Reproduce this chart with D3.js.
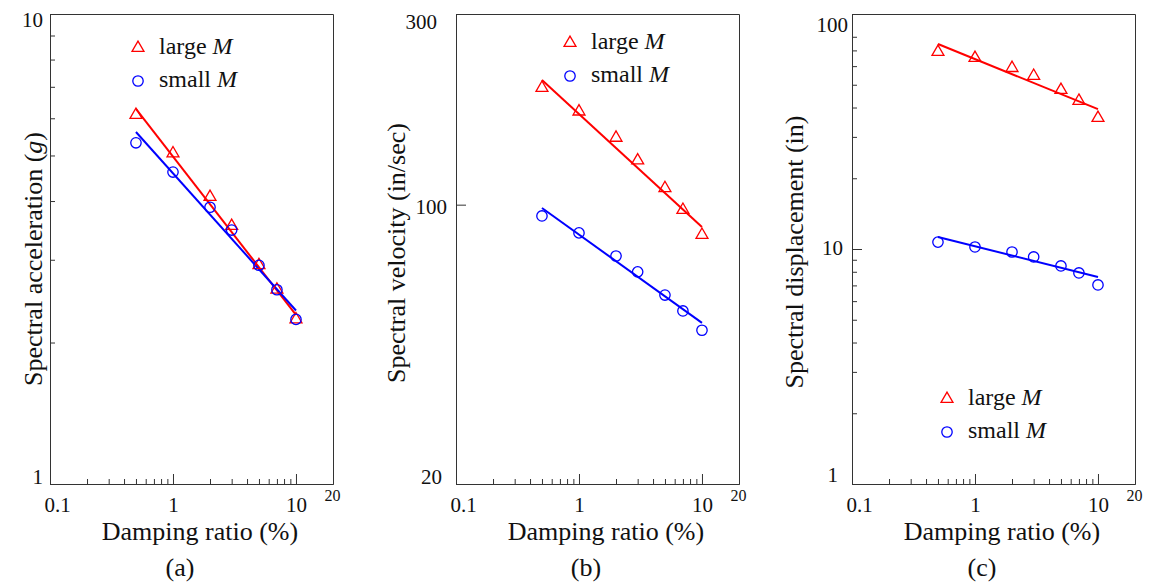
<!DOCTYPE html>
<html>
<head>
<meta charset="utf-8">
<script src="https://cdn.jsdelivr.net/npm/d3@7"></script>
</head>
<body style="margin:0">
<svg id="spectra" width="1152" height="586"></svg>
<script>
// Damping ratios (%) used for every response value
const damping = [0.5, 1, 2, 3, 5, 7, 10];
const fitDamping = [0.5, 10];

// (a) spectral acceleration (g)
const accLarge = [6.1, 5.05, 4.08, 3.54, 2.92, 2.59, 2.24];
const accSmall = [5.32, 4.61, 3.88, 3.47, 2.92, 2.59, 2.24];
const accLargeFit = [6.28, 2.29];
const accSmallFit = [5.61, 2.34];

// (b) spectral velocity (in/sec)
const velLarge = [196, 171, 147, 129, 110, 97, 84];
const velSmall = [93.7, 85.0, 74.4, 67.9, 59.4, 54.2, 48.5];
const velLargeFit = [205, 87.9];
const velSmallFit = [98.1, 50.6];

// (c) spectral displacement (in)
const dispLarge = [68.9, 65.0, 58.9, 54.5, 47.5, 42.7, 36.1];
const dispSmall = [10.7, 10.2, 9.71, 9.25, 8.47, 7.91, 7.03];
const dispLargeFit = [74.5, 39.4];
const dispSmallFit = [11.25, 7.60];

// Tick values
const xMajorTicks = [0.1, 1, 10, 20];
const xMinorTicks = [0.2, 0.3, 0.4, 0.5, 0.6, 0.7, 0.8, 0.9, 2, 3, 4, 5, 6, 7, 8, 9];
const accTicks = [1, 10];
const accMinorTicks = [2, 3, 4, 5, 6, 7, 8, 9];
const velTicks = [20, 100, 300];
const velMinorTicks = [];
const dispTicks = [1, 10, 100];
const dispMinorTicks = [2, 3, 4, 5, 6, 7, 8, 9, 20, 30, 40, 50, 60, 70, 80];

const seriesNames = ["large", "small"];
const panelLabels = ["(a)", "(b)", "(c)"];

const RED = "#ff0000", BLUE = "#0000ff", AXIS = "#333", INK = "#111";
const TOP = 14, BOTTOM = 484;
const SERIF = "Liberation Serif";

const svg = d3.select("#spectra");
svg.append("rect").attr("width", 1152).attr("height", 586).attr("fill", "#fff");

const panels = [
  {
    left: 50, right: 333, domain: [1, 10], ticks: accTicks, minor: accMinorTicks,
    large: accLarge, small: accSmall, largeFit: accLargeFit, smallFit: accSmallFit,
    title: ["Spectral acceleration (", "g", ")"], titleX: 42, titleY: 259,
    yLabelPad: [7, 7], yLabelShift: [-7, 6],
    legend: { x: 138, y: 48 }, label: panelLabels[0]
  },
  {
    left: 456, right: 739, domain: [20, 300], ticks: velTicks, minor: velMinorTicks,
    large: velLarge, small: velSmall, largeFit: velLargeFit, smallFit: velSmallFit,
    title: ["Spectral velocity (in/sec)"], titleX: 405, titleY: 253,
    yLabelPad: [14, 9, 19], yLabelShift: [-7, 2, 8],
    legend: { x: 570, y: 43 }, label: panelLabels[1]
  },
  {
    left: 852, right: 1135, domain: [1, 100], ticks: dispTicks, minor: dispMinorTicks,
    large: dispLarge, small: dispSmall, largeFit: dispLargeFit, smallFit: dispSmallFit,
    title: ["Spectral displacement (in)"], titleX: 803, titleY: 252,
    yLabelPad: [14, 9, 4], yLabelShift: [-9, -1, 11],
    legend: { x: 947, y: 399 }, label: panelLabels[2]
  }
];

const tri = d3.symbol().type(d3.symbolTriangle).size(62);

// serif text helper: inline style so nothing else overrides the face
function serif(sel, size) {
  return sel.style("font-family", SERIF).style("font-size", size + "px").attr("fill", INK);
}

panels.forEach(p => {
  const g = svg.append("g");
  const x = d3.scaleLog().domain([0.1, 20]).range([p.left, p.right]);
  const y = d3.scaleLog().domain(p.domain).range([BOTTOM, TOP]);

  // top and right edges of the frame
  g.append("path")
    .attr("d", `M${p.left + 0.5},${TOP + 0.5}H${p.right + 0.5}V${BOTTOM + 0.5}`)
    .attr("fill", "none").attr("stroke", AXIS).attr("stroke-width", 1);

  // x axis: major ticks with labels, inward ticks
  const xa = g.append("g").attr("transform", `translate(0,${BOTTOM})`)
    .call(d3.axisBottom(x).tickValues(xMajorTicks).tickSize(-10).tickPadding(13)
      .tickFormat(d => String(d)));
  serif(xa.selectAll("text"), 21);
  xa.selectAll(".tick").filter(d => d === 0.1).select("text").attr("dx", 7);
  xa.selectAll(".tick").filter(d => d === 20).select("text")
    .style("font-size", "16px").attr("y", 6).attr("dx", -1);
  xa.selectAll(".tick").filter(d => d === 20).select("line").remove();
  xa.selectAll(".tick line").attr("stroke", AXIS);
  xa.select(".domain").attr("stroke", AXIS);

  // x axis minor ticks
  const xm = g.append("g").attr("transform", `translate(0,${BOTTOM})`)
    .call(d3.axisBottom(x).tickValues(xMinorTicks).tickSize(-5).tickFormat(""));
  xm.select(".domain").remove();
  xm.selectAll(".tick line").attr("stroke", AXIS);

  // y axis: major ticks with labels
  const ya = g.append("g").attr("transform", `translate(${p.left},0)`)
    .call(d3.axisLeft(y).tickValues(p.ticks).tickSize(-10).tickPadding(7)
      .tickFormat(d => String(d)));
  serif(ya.selectAll("text"), 21)
    .attr("x", (d, i) => -p.yLabelPad[i])
    .attr("transform", (d, i) => `translate(0,${p.yLabelShift[i]})`);
  ya.selectAll(".tick line").attr("stroke", AXIS);
  ya.select(".domain").attr("stroke", AXIS);

  // y axis minor ticks
  if (p.minor.length) {
    const ym = g.append("g").attr("transform", `translate(${p.left},0)`)
      .call(d3.axisLeft(y).tickValues(p.minor).tickSize(-5).tickFormat(""));
    ym.select(".domain").remove();
    ym.selectAll(".tick line").attr("stroke", AXIS);
  }

  // fitted trend lines
  const line = d3.line().x((d, i) => x(fitDamping[i])).y(d => y(d));
  g.append("path").datum(p.largeFit).attr("d", line)
    .attr("fill", "none").attr("stroke", RED).attr("stroke-width", 2);
  g.append("path").datum(p.smallFit).attr("d", line)
    .attr("fill", "none").attr("stroke", BLUE).attr("stroke-width", 2);

  // measured points
  g.selectAll(".pl").data(p.large).join("path")
    .attr("transform", (d, i) => `translate(${x(damping[i])},${y(d)})`)
    .attr("d", tri).attr("fill", "none").attr("stroke", RED).attr("stroke-width", 1.3);
  g.selectAll(".ps").data(p.small).join("circle")
    .attr("cx", (d, i) => x(damping[i])).attr("cy", d => y(d)).attr("r", 5.2)
    .attr("fill", "none").attr("stroke", BLUE).attr("stroke-width", 1.3);

  // legend
  const lg = g.append("g").attr("transform", `translate(${p.legend.x},${p.legend.y})`);
  lg.append("path").attr("d", tri).attr("fill", "none").attr("stroke", RED).attr("stroke-width", 1.3);
  lg.append("circle").attr("cy", 33).attr("r", 5.2).attr("fill", "none").attr("stroke", BLUE).attr("stroke-width", 1.3);
  seriesNames.forEach((name, i) => {
    const t = serif(lg.append("text").attr("x", 21).attr("y", i * 33 + 6), 24);
    t.append("tspan").text(name + " ");
    t.append("tspan").style("font-style", "italic").text("M");
  });

  // y axis title
  const yt = serif(g.append("text")
    .attr("transform", `translate(${p.titleX},${p.titleY}) rotate(-90)`)
    .attr("text-anchor", "middle"), 26);
  p.title.forEach((s, i) => {
    const ts = yt.append("tspan").text(s);
    if (i === 1) ts.style("font-style", "italic");
  });

  // x axis title and panel label
  serif(g.append("text").attr("x", p.left + 150).attr("y", 540)
    .attr("text-anchor", "middle"), 26)
    .text("Damping ratio (%)");
  serif(g.append("text").attr("x", p.left + 130).attr("y", 576)
    .attr("text-anchor", "middle"), 26)
    .text(p.label);
});
</script>
</body>
</html>
